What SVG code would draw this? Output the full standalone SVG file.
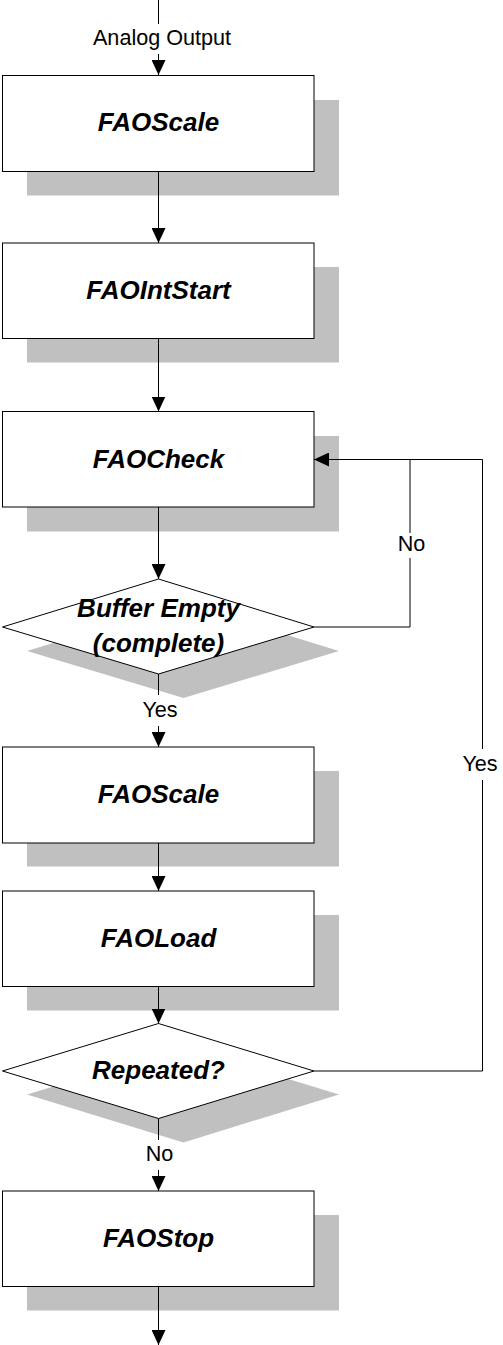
<svg xmlns="http://www.w3.org/2000/svg" width="503" height="1345" viewBox="0 0 503 1345">
<style>
.box{fill:#fff;stroke:#000;stroke-width:1}
.sh{fill:#c0c0c0;stroke:none}
.t{font-family:"Liberation Sans",Arial,sans-serif;font-size:26px;font-weight:bold;font-style:italic;text-anchor:middle;fill:#000}
.lbl{font-family:"Liberation Sans",Arial,sans-serif;font-size:21.6px;text-anchor:middle;fill:#000}
.ln{fill:none;stroke:#000;stroke-width:1}
</style>
<defs>
<marker id="ah" markerUnits="userSpaceOnUse" markerWidth="15" markerHeight="14" refX="15" refY="7" orient="auto">
<path d="M0,0 L15,7 L0,14 z" fill="#000"/>
</marker>
</defs>
<rect width="503" height="1345" fill="#fff"/>

<g id="n1">
<rect class="sh" x="27" y="100" width="312" height="95.5"/>
<rect class="box" x="2.5" y="75.5" width="311.5" height="96"/>
<text class="t" x="158.5" y="131">FAOScale</text>
</g>
<g id="n2">
<rect class="sh" x="27" y="267" width="312" height="95.5"/>
<rect class="box" x="2.5" y="243" width="311.5" height="95.5"/>
<text class="t" x="158.5" y="299">FAOIntStart</text>
</g>
<g id="n3">
<rect class="sh" x="27" y="436" width="312" height="95.5"/>
<rect class="box" x="2.5" y="411.5" width="311.5" height="95.5"/>
<text class="t" x="158.5" y="467.5">FAOCheck</text>
</g>
<g id="d1">
<polygon class="sh" points="183.5,603 339,651 183.5,698 27,651"/>
<polygon class="box" points="158.5,579 314,627 158.5,674 2.5,627"/>
<text class="t" x="158.5" y="617">Buffer Empty</text>
<text class="t" x="158.5" y="652">(complete)</text>
</g>
<g id="n4">
<rect class="sh" x="27" y="771" width="312" height="95.5"/>
<rect class="box" x="2.5" y="747" width="311.5" height="96"/>
<text class="t" x="158.5" y="803">FAOScale</text>
</g>
<g id="n5">
<rect class="sh" x="27" y="915" width="312" height="95.5"/>
<rect class="box" x="2.5" y="891" width="311.5" height="95.5"/>
<text class="t" x="158.5" y="946.5">FAOLoad</text>
</g>
<g id="d2">
<polygon class="sh" points="183.5,1047 339,1094.5 183.5,1142.5 27,1094.5"/>
<polygon class="box" points="158.5,1023.5 314,1071 158.5,1118.5 2.5,1071"/>
<text class="t" x="158.5" y="1078.5">Repeated?</text>
</g>
<g id="n6">
<rect class="sh" x="27" y="1215" width="312" height="95.5"/>
<rect class="box" x="2.5" y="1191" width="311.5" height="95.5"/>
<text class="t" x="158.5" y="1247">FAOStop</text>
</g>

<g id="connectors">
<line class="ln" x1="158.5" y1="0" x2="158.5" y2="24"/>
<line class="ln" x1="158.5" y1="54" x2="158.5" y2="75" marker-end="url(#ah)"/>
<line class="ln" x1="158.5" y1="171.5" x2="158.5" y2="243" marker-end="url(#ah)"/>
<line class="ln" x1="158.5" y1="338.5" x2="158.5" y2="411.5" marker-end="url(#ah)"/>
<line class="ln" x1="158.5" y1="507" x2="158.5" y2="579" marker-end="url(#ah)"/>
<line class="ln" x1="158.5" y1="674" x2="158.5" y2="695"/>
<line class="ln" x1="158.5" y1="726" x2="158.5" y2="747" marker-end="url(#ah)"/>
<line class="ln" x1="158.5" y1="843" x2="158.5" y2="891" marker-end="url(#ah)"/>
<line class="ln" x1="158.5" y1="986.5" x2="158.5" y2="1023.5" marker-end="url(#ah)"/>
<line class="ln" x1="158.5" y1="1118.5" x2="158.5" y2="1140"/>
<line class="ln" x1="158.5" y1="1170" x2="158.5" y2="1191" marker-end="url(#ah)"/>
<line class="ln" x1="158.5" y1="1286.5" x2="158.5" y2="1345" marker-end="url(#ah)"/>
<polyline class="ln" points="314,627 410,627 410,558"/>
<line class="ln" x1="410" y1="533" x2="410" y2="459.5"/>
<polyline class="ln" points="314,1071 482.5,1071 482.5,780"/>
<polyline class="ln" points="482.5,749 482.5,459.5 314,459.5" marker-end="url(#ah)"/>
<text class="lbl" x="162" y="45">Analog Output</text>
<text class="lbl" x="160" y="717">Yes</text>
<text class="lbl" x="411.5" y="551">No</text>
<text class="lbl" x="480" y="771">Yes</text>
<text class="lbl" x="159.5" y="1161">No</text>
</g>
</svg>
